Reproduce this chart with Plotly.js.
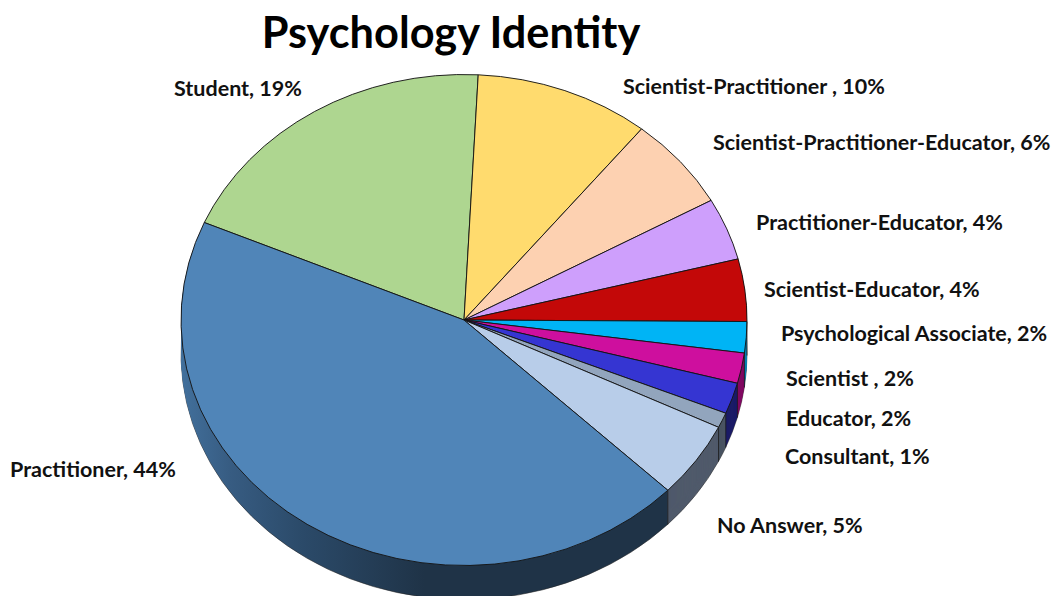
<!DOCTYPE html>
<html>
<head>
<meta charset="utf-8">
<script src="https://cdn.plot.ly/plotly-3.0.1.min.js"></script>
<style>html,body{margin:0;padding:0;background:#fff;overflow:hidden}#chart{width:1055px;height:596px}</style>
</head>
<body>
<div id="chart"></div>
<script>
const categories = ["Student", "Scientist-Practitioner ", "Scientist-Practitioner-Educator", "Practitioner-Educator", "Scientist-Educator", "Psychological Associate", "Scientist ", "Educator", "Consultant", "No Answer", "Practitioner"];
const percentLabels = ["19%", "10%", "6%", "4%", "4%", "2%", "2%", "2%", "1%", "5%", "44%"];
const values = [19.3, 10, 6.1, 4.1, 4.1, 2.05, 2, 2.05, 1, 5, 44.3];
const topColors = ["#AED690", "#FFDB6E", "#FDD1B1", "#CE9FFC", "#C30808", "#00B4F5", "#CE0F9E", "#3535D2", "#92A5BD", "#B8CDE9", "#5085B8"];
const sideColors = ["#6A8A55", "#A08840", "#A08570", "#7F60A0", "#7A0505", "#0A7FB0", "#800A62", "#1C1C68", "#4A5462", "#505A6B", "#1F3347"];
const labelX = [173, 622, 712, 755, 763, 780, 785, 785, 784, 716, 9];
const labelY = [88, 86, 142, 222, 289, 333, 378, 418, 456, 525, 469];

const W = 1055, H = 596, CX = 464, CY = 320, R = 283, RY = 245.5, DEPTH = 34, ROT = -66.6;
const K = RY / R, CYU = 298;
const FONT = "Lato, 'Open Sans', sans-serif";

function pieTrace(colors, line) {
  return {
    type: "pie", labels: categories, values: values, sort: false, direction: "clockwise",
    rotation: ROT, textinfo: "none", hoverinfo: "skip", showlegend: false,
    domain: {x: [(CX - R) / W, (CX + R) / W], y: [(H - CYU - R) / H, (H - CYU + R) / H]},
    marker: {colors: colors, line: line}
  };
}
const data = [];
for (let d = DEPTH; d >= 1; d--) data.push(pieTrace(sideColors, {width: d === DEPTH ? 0.6 : 0, color: "#222222"}));
data.push(pieTrace(topColors, {width: 1, color: "#141414"}));

const total = values.reduce((a, b) => a + b, 0);
const shapes = [];
let acc = 0;
values.forEach(v => {
  acc += v;
  const deg = ROT + acc / total * 360, th = deg * Math.PI / 180;
  if (Math.cos(th) < 0) {
    const px = CX + R * Math.sin(th), py = CY - RY * Math.cos(th);
    shapes.push({type: "line", xref: "paper", yref: "paper", x0: px / W, x1: px / W,
      y0: 1 - py / H, y1: 1 - (py + DEPTH) / H, line: {color: "#1a1a1a", width: 0.8}});
  }
});

const annotations = categories.map((c, i) => ({
  text: c + ", " + percentLabels[i], xref: "paper", yref: "paper", showarrow: false,
  x: labelX[i] / W, y: 1 - labelY[i] / H, xanchor: "left", yanchor: "middle",
  xshift: 0, borderpad: 0, font: {family: FONT, size: 21.5, color: "#111111", weight: 700}
}));

const layout = {
  width: W, height: H, margin: {l: 0, r: 0, t: 0, b: 0}, paper_bgcolor: "#fff", showlegend: false,
  title: {text: "<b>Psychology Identity</b>", x: 451 / W, xanchor: "center", xref: "paper",
          y: 1 - 33 / H, yanchor: "middle", yref: "paper", font: {family: FONT, size: 43.3, color: "#000"}},
  annotations: annotations, shapes: shapes
};

Plotly.newPlot("chart", data, layout, {displayModeBar: false, staticPlot: true}).then(gd => {
  const svg = gd.querySelector(".main-svg");
  const NS = "http://www.w3.org/2000/svg";
  const defs = svg.querySelector("defs") || svg.insertBefore(document.createElementNS(NS, "defs"), svg.firstChild);
  const grad = document.createElementNS(NS, "linearGradient");
  grad.setAttribute("id", "sideGrad");
  [[0, "#42709C"], [0.1, "#375C82"], [0.25, "#2B4A69"], [0.5, "#1F3347"], [1, "#1F3347"]].forEach(s => {
    const st = document.createElementNS(NS, "stop");
    st.setAttribute("offset", s[0]); st.setAttribute("stop-color", s[1]); grad.appendChild(st);
  });
  defs.appendChild(grad);
  const groups = gd.querySelectorAll(".pielayer .trace");
  groups.forEach((g, i) => {
    const d = i < DEPTH ? DEPTH - i : 0;
    g.setAttribute("transform", `translate(0,${CY + d}) scale(1,${K}) translate(0,${-CYU})`);
    if (i < DEPTH) {
      const s = g.querySelectorAll(".slice path.surface");
      const last = s[s.length - 1];
      if (last) last.style.fill = "url(#sideGrad)";
    }
  });
});
</script>
</body>
</html>
